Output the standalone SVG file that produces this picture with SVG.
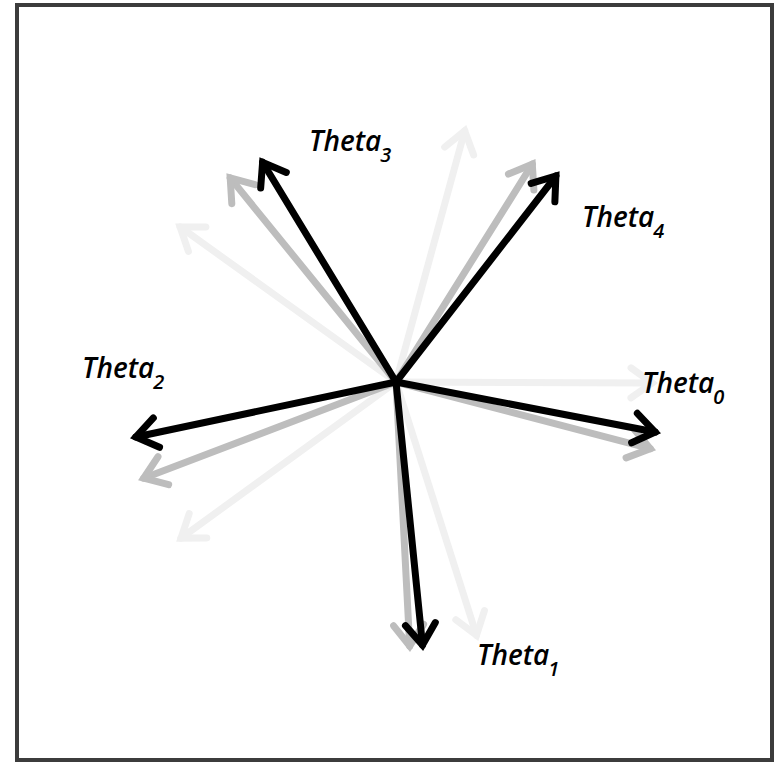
<svg xmlns="http://www.w3.org/2000/svg" width="775" height="762" viewBox="0 0 775 762">
  <style>
    .frame { fill: #ffffff; stroke: #3c3c3c; stroke-width: 4; }
    .arr { fill: none; stroke-width: 7; stroke-linecap: round; stroke-linejoin: miter; }
    .k { stroke: #000000; }
    .g { stroke: #bdbdbd; }
    .l { stroke: #f0f0f0; }
    .lbl { font-family: "Open Sans", "Noto Sans", sans-serif; font-style: italic; font-weight: 600; font-size: 28px; fill: #000000; }
    .sub { font-size: 20px; font-weight: 600; }
  </style>
  <defs>
    <marker id="mk" markerUnits="userSpaceOnUse" orient="auto" markerWidth="60" markerHeight="60" refX="0" refY="0" overflow="visible">
      <path d="M-21,-15 L0,0 L-21,15" fill="none" stroke="#000000" stroke-width="7" stroke-linecap="round" stroke-linejoin="miter"/>
    </marker>
    <marker id="mg" markerUnits="userSpaceOnUse" orient="auto" markerWidth="60" markerHeight="60" refX="0" refY="0" overflow="visible">
      <path d="M-21,-15 L0,0 L-21,15" fill="none" stroke="#bdbdbd" stroke-width="7" stroke-linecap="round" stroke-linejoin="miter"/>
    </marker>
    <marker id="ml" markerUnits="userSpaceOnUse" orient="auto" markerWidth="60" markerHeight="60" refX="0" refY="0" overflow="visible">
      <path d="M-21,-15 L0,0 L-21,15" fill="none" stroke="#f0f0f0" stroke-width="7" stroke-linecap="round" stroke-linejoin="miter"/>
    </marker>
  </defs>
  <rect class="frame" x="17" y="5" width="755" height="755"/>
  <g id="connectors">
    <g id="light">
      <line class="arr l" x1="396" y1="382" x2="652" y2="383" marker-end="url(#ml)"/>
      <line class="arr l" x1="396" y1="382" x2="476.5" y2="635.2" marker-end="url(#ml)"/>
      <line class="arr l" x1="396" y1="382" x2="181" y2="538.1" marker-end="url(#ml)"/>
      <line class="arr l" x1="396" y1="382" x2="180.1" y2="226.9" marker-end="url(#ml)"/>
      <line class="arr l" x1="396" y1="382" x2="464.7" y2="130.8" marker-end="url(#ml)"/>
    </g>
    <g id="gray">
      <line class="arr g" x1="396" y1="382" x2="650.2" y2="448.7" marker-end="url(#mg)"/>
      <line class="arr g" x1="396" y1="382" x2="409.7" y2="646" marker-end="url(#mg)"/>
      <line class="arr g" x1="396" y1="382" x2="143.7" y2="478.2" marker-end="url(#mg)"/>
      <line class="arr g" x1="396" y1="382" x2="230.2" y2="177.9" marker-end="url(#mg)"/>
      <line class="arr g" x1="396" y1="382" x2="532.3" y2="164.2" marker-end="url(#mg)"/>
    </g>
    <g id="black">
      <line class="arr k" x1="396" y1="382" x2="655.1" y2="432" marker-end="url(#mk)"/>
      <line class="arr k" x1="396" y1="382" x2="422.5" y2="645" marker-end="url(#mk)"/>
      <line class="arr k" x1="396" y1="382" x2="135.9" y2="437" marker-end="url(#mk)"/>
      <line class="arr k" x1="396" y1="382" x2="262.6" y2="162.3" marker-end="url(#mk)"/>
      <line class="arr k" x1="396" y1="382" x2="555.9" y2="176" marker-end="url(#mk)"/>
    </g>
  </g>
  <g id="theta0"><text class="lbl" x="642" y="393">Theta<tspan class="sub" dx="-1" dy="11">0</tspan></text></g>
  <g id="theta1"><text class="lbl" x="477" y="665">Theta<tspan class="sub" dx="-1" dy="11">1</tspan></text></g>
  <g id="theta2"><text class="lbl" x="82" y="378">Theta<tspan class="sub" dx="-1" dy="11">2</tspan></text></g>
  <g id="theta3"><text class="lbl" x="309" y="151">Theta<tspan class="sub" dx="-1" dy="11">3</tspan></text></g>
  <g id="theta4"><text class="lbl" x="582" y="227">Theta<tspan class="sub" dx="-1" dy="11">4</tspan></text></g>
</svg>
